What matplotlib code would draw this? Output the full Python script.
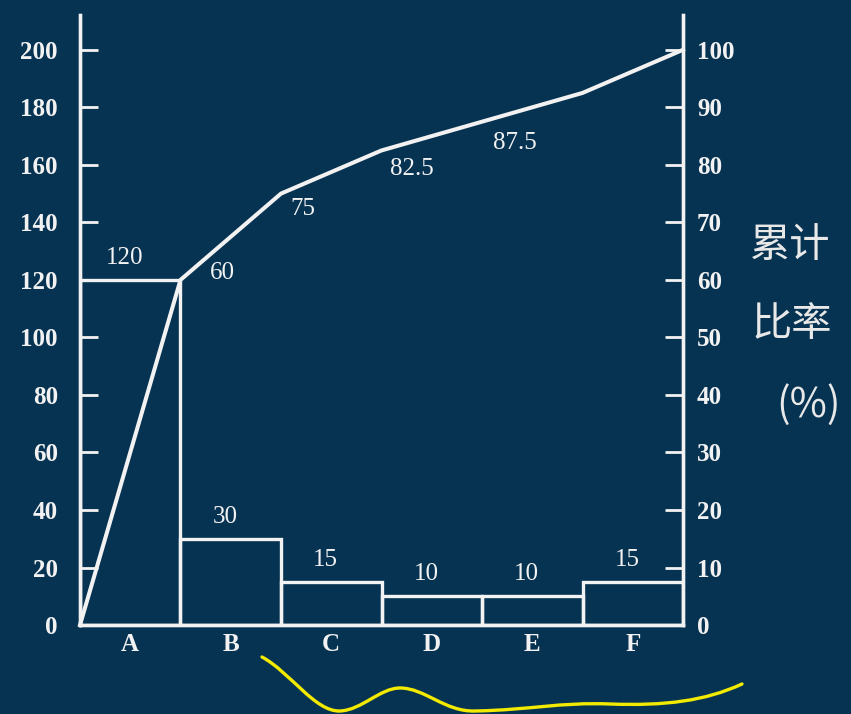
import numpy as np
import matplotlib
matplotlib.use("Agg")
import matplotlib.pyplot as plt
from matplotlib.path import Path
from matplotlib.patches import PathPatch

# Pareto data
categories = ["A", "B", "C", "D", "E", "F"]
counts = [120, 30, 15, 10, 10, 15]
left_ticks = [0, 20, 40, 60, 80, 100, 120, 140, 160, 180, 200]
right_ticks = [0, 10, 20, 30, 40, 50, 60, 70, 80, 90, 100]
shown_cum_labels = 4  # cumulative labels printed on the curve

BG = "#073352"
FG = "#f2f2f2"

counts_arr = np.array(counts, dtype=float)
cum_pct = np.cumsum(counts_arr) / counts_arr.sum() * 100
x = np.arange(len(categories))

fig = plt.figure(figsize=(8.51, 7.14), dpi=100, facecolor=BG)
ax = fig.add_axes([0.094, 0.1246, 0.7086, 0.854])
ax.set_facecolor(BG)
ax2 = ax.twinx()

# bars as open boxes
ax.bar(x, counts, width=1.0, facecolor="none", edgecolor=FG, linewidth=2.4)
ax.set_xlim(-0.5, len(categories) - 0.5)
ax.set_ylim(0, 212)
ax2.set_ylim(0, 106)

# cumulative percentage curve
cx = np.concatenate([[-0.5], x + 0.5])
cy = np.concatenate([[0], cum_pct])
ax2.plot(cx, cy, color=FG, linewidth=2.9, solid_joinstyle="round", clip_on=False)

serif = "Liberation Serif"

# bar value labels
for xi, v in zip(x, counts):
    ax.annotate(f"{v:g}", (xi, v), xytext=(-4, 8), textcoords="offset points",
                ha="center", va="bottom", color=FG, fontsize=18, family=serif)

# cumulative labels
cum_offsets = [(30, 5), (16, -11), (22, -13), (24, -15)]
for i in range(shown_cum_labels):
    ax2.annotate(f"{cum_pct[i]:g}", (x[i] + 0.5, cum_pct[i]), xytext=cum_offsets[i],
                 textcoords="offset points", ha="center", va="center",
                 color=FG, fontsize=18, family=serif)

# axes styling
for a in (ax, ax2):
    a.spines["top"].set_visible(False)
    for s in ("left", "right", "bottom"):
        a.spines[s].set_color(FG)
        a.spines[s].set_linewidth(2.4)

ax.set_yticks(left_ticks)
ax.tick_params(axis="y", direction="in", length=13, width=2, colors=FG, pad=16,
               labelsize=18)
ax2.set_yticks(right_ticks)
ax2.tick_params(axis="y", direction="in", length=13, width=2, colors=FG, pad=10,
                labelsize=18)
for lab in ax.get_yticklabels() + ax2.get_yticklabels():
    lab.set_family(serif)
    lab.set_fontweight("bold")

ax.set_xticks(x)
ax.set_xticklabels(categories, family=serif, fontweight="bold", fontsize=18, color=FG)
ax.tick_params(axis="x", length=0, pad=6)

# right-hand axis title
cjk = ["Noto Sans CJK SC", "DejaVu Sans"]
for txt, cx_px, cy_px in (("累计", 790, 245), ("比率", 792, 325), ("(%)", 808, 405)):
    fig.text(cx_px / 851, 1 - cy_px / 714, txt, family=cjk, fontsize=29,
             color="#e8e8e8", ha="center", va="center")

# hand-drawn yellow underline
W, H = 851, 714
pts = [(262, 657), (290, 672), (315, 712), (340, 711),
       (362, 710), (380, 688), (400, 688),
       (425, 688), (445, 712), (475, 711),
       (530, 710), (560, 702), (610, 704),
       (665, 706), (705, 701), (742, 684)]
codes = [Path.MOVETO] + [Path.CURVE4] * (len(pts) - 1)
verts = [(px / W, 1 - py / H) for px, py in pts]
fig.add_artist(PathPatch(Path(verts, codes), transform=fig.transFigure,
                         facecolor="none", edgecolor="#f2ea00", linewidth=2.4,
                         capstyle="round"))

fig.savefig("out.png", dpi=100, facecolor=BG)
